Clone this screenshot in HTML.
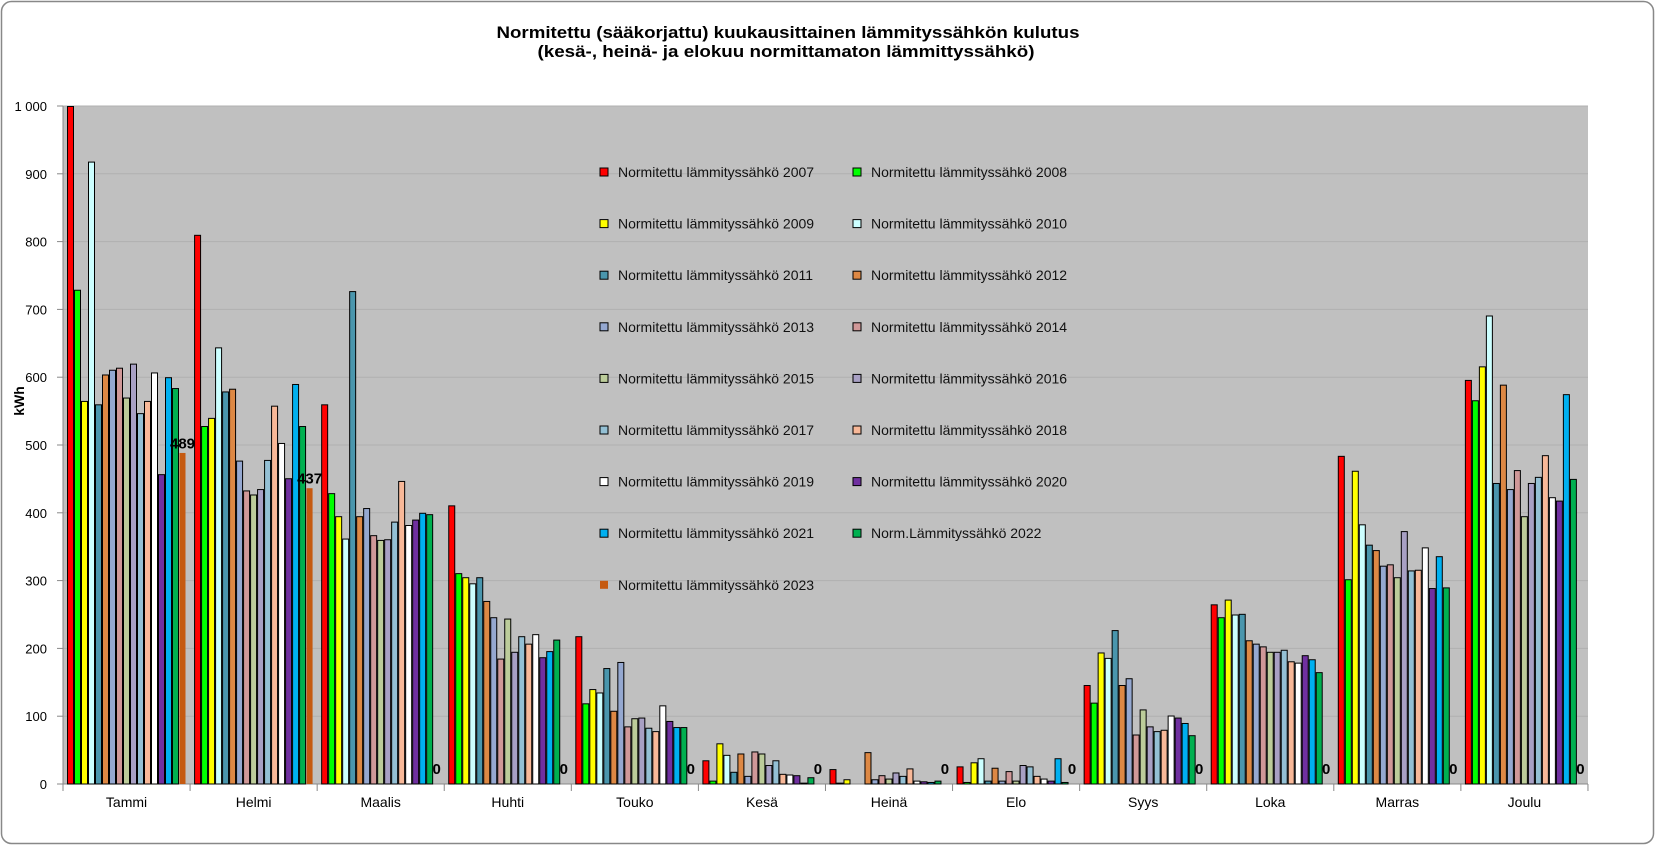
<!DOCTYPE html>
<html><head><meta charset="utf-8">
<style>
html,body{margin:0;padding:0;background:#fff;}
svg{display:block;font-family:"Liberation Sans",sans-serif;}
</style></head>
<body>
<svg id="c" width="1656" height="846" xmlns="http://www.w3.org/2000/svg">
<rect x="1.5" y="1.5" width="1652" height="842" rx="10" fill="#fff" stroke="#888" stroke-width="1.5"/>
<text x="788" y="38" text-anchor="middle" font-weight="bold" font-size="17" textLength="583" lengthAdjust="spacingAndGlyphs">Normitettu (sääkorjattu) kuukausittainen lämmityssähkön kulutus</text>
<text x="786" y="57" text-anchor="middle" font-weight="bold" font-size="17" textLength="497" lengthAdjust="spacingAndGlyphs">(kesä-, heinä- ja elokuu normittamaton lämmittyssähkö)</text>
<rect x="63" y="106" width="1525" height="678" fill="#C0C0C0"/>
<g id="g"></g>
</svg>
<script>
var g=document.getElementById('g'),NS="http://www.w3.org/2000/svg",h="";
var X0=63,Y0=784,S=0.678,GW=127.08,BW=7;
var cols=["#FF0000","#00FF00","#FFFF00","#CCFFFF","#4A96AD","#DD8844","#95A8D0","#D09898","#BCCC9A","#A8A0C4","#94C0D4","#F8B898","#FFFFFF","#7030A0","#00B0F0","#00B050","#C55A11"];
var names=[];for(var i=0;i<16;i++)names.push("Normitettu lämmityssähkö "+(2007+i));names[15]="Norm.Lämmityssähkö 2022";names.push("Normitettu lämmityssähkö 2023");
var months=["Tammi","Helmi","Maalis","Huhti","Touko","Kesä","Heinä","Elo","Syys","Loka","Marras","Joulu"];
var d=[
[1000,729,565,918,560,604,611,614,570,620,547,565,607,457,600,584,489],
[810,528,540,644,579,583,477,433,427,435,478,558,503,451,590,528,437],
[560,429,395,362,727,395,407,367,360,361,387,447,382,390,400,398,0],
[411,311,305,296,305,270,246,185,244,195,218,207,221,187,196,213,0],
[218,119,140,135,171,108,180,85,97,98,83,78,116,93,84,84,0],
[35,5,60,43,18,45,12,48,45,28,35,15,14,13,2,10,0],
[22,2,7,0,0,47,7,13,8,17,12,23,5,4,3,5,0],
[26,3,32,38,5,24,5,19,5,28,26,12,8,5,38,3,0],
[146,120,194,186,227,146,156,73,110,85,78,80,101,98,90,72,0],
[265,246,272,250,251,212,207,203,195,195,198,181,179,190,184,165,0],
[484,302,462,383,353,345,322,324,305,373,315,316,349,289,336,290,0],
[596,566,616,691,444,589,435,463,395,444,453,485,423,418,575,450,0]];
for(var k=1;k<=10;k++){var y=Y0-k*100*S;h+='<line x1="63" x2="1588" y1="'+y+'" y2="'+y+'" stroke="#B0B0B0" stroke-width="1"/>';}
for(var k=0;k<=10;k++){var y=Y0-k*100*S;h+='<line x1="57" x2="63" y1="'+y+'" y2="'+y+'" stroke="#888"/>';
h+='<text x="47" y="'+(y+5)+'" text-anchor="end" font-size="13">'+(k==10?"1 000":k*100)+'</text>';}
h+='<line x1="63" x2="63" y1="106" y2="784" stroke="#888"/><line x1="63" x2="1588" y1="784" y2="784" stroke="#888"/>';
for(var m=0;m<=12;m++){var x=X0+m*GW;h+='<line x1="'+x+'" x2="'+x+'" y1="784" y2="791" stroke="#888"/>';}
for(var m=0;m<12;m++){var gx=X0+m*GW+4;
 h+='<text x="'+(X0+m*GW+GW/2)+'" y="807" text-anchor="middle" font-size="14">'+months[m]+'</text>';
 for(var s=0;s<17;s++){var v=d[m][s],x=gx+s*BW,bh=v*S;
  if(v>0)h+='<rect x="'+(x+0.5)+'" y="'+(Y0-bh+0.5)+'" width="'+(BW-1)+'" height="'+(bh-0.5)+'" fill="'+cols[s]+'" stroke="'+(s==16?"none":"#000")+'" stroke-width="1"/>';
 }
 var lx=gx+16*BW+3.5,lv=d[m][16];
 h+='<text x="'+lx+'" y="'+(Y0-lv*S-(lv>0?4:10))+'" text-anchor="middle" font-weight="bold" font-size="15">'+lv+'</text>';
}
for(var s=0;s<17;s++){var r=Math.floor(s/2),c=s%2,yy=172+r*51.6,mx=c?857:604;
 h+='<rect x="'+(mx-4)+'" y="'+(yy-4)+'" width="8" height="8" fill="'+cols[s]+'" stroke="'+(s==16?"none":"#000")+'"/>';
 h+='<text x="'+(mx+14)+'" y="'+(yy+5)+'" font-size="14" fill="#111">'+names[s]+'</text>';}
h+='<text transform="translate(24,401) rotate(-90)" text-anchor="middle" font-weight="bold" font-size="14">kWh</text>';
g.innerHTML=h;
</script>
</body></html>
